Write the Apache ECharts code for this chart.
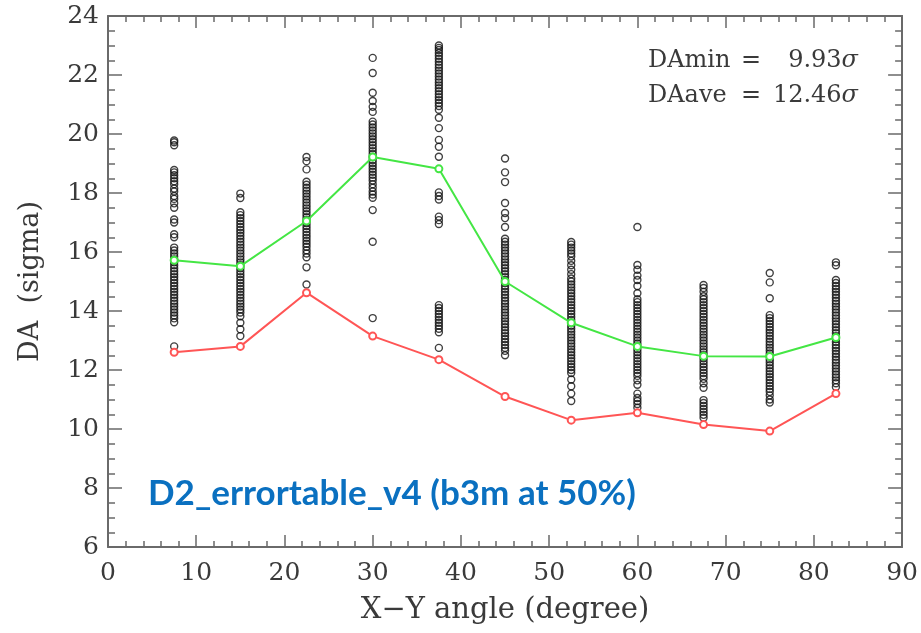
<!DOCTYPE html>
<html>
<head>
<meta charset="utf-8">
<script src="https://cdn.jsdelivr.net/npm/echarts@6/dist/echarts.min.js"></script>
<style>html,body{margin:0;padding:0;background:#fff}#chart{width:921px;height:633px}</style>
</head>
<body>
<div id="chart"></div>
<script>
// X positions of the angle columns (degree)
const angles = [7.5, 15, 22.5, 30, 37.5, 45, 52.5, 60, 67.5, 75, 82.5];
// Average DA per angle (green) and minimum DA per angle (red)
const daAverage = [15.72, 15.52, 17.05, 19.22, 18.82, 15.0, 13.6, 12.8, 12.47, 12.46, 13.1];
const daMinimum = [12.6, 12.8, 14.62, 13.15, 12.35, 11.1, 10.3, 10.55, 10.15, 9.93, 11.2];

// Individual seed DA values for each angle column
const seeds7_5 = [19.78, 19.72, 19.62, 18.78, 18.7, 18.6, 18.5, 18.4, 18.3, 18.15, 18.05, 17.9, 17.8, 17.65, 17.5, 17.1, 17.0, 16.6, 16.5, 16.15, 16.05, 15.95, 15.85, 15.75, 15.65, 15.55, 15.45, 15.35, 15.25, 15.15, 15.05, 14.95, 14.85, 14.75, 14.65, 14.55, 14.45, 14.35, 14.25, 14.15, 14.05, 13.95, 13.85, 13.75, 13.62, 12.8];
const seeds15 = [17.98, 17.83, 17.35, 17.25, 17.15, 17.05, 16.95, 16.85, 16.75, 16.65, 16.55, 16.45, 16.35, 16.25, 16.15, 16.05, 15.95, 15.85, 15.75, 15.65, 15.55, 15.45, 15.35, 15.25, 15.15, 15.05, 14.95, 14.85, 14.75, 14.65, 14.55, 14.45, 14.35, 14.25, 14.15, 14.05, 13.95, 13.82, 13.6, 13.38, 13.15];
const seeds22_5 = [19.22, 19.08, 18.8, 18.38, 18.28, 18.18, 18.08, 17.98, 17.88, 17.78, 17.68, 17.58, 17.48, 17.38, 17.28, 17.18, 17.08, 16.98, 16.88, 16.78, 16.68, 16.58, 16.48, 16.38, 16.28, 16.18, 16.06, 15.95, 15.82, 15.48, 14.9];
const seeds30 = [22.58, 22.07, 21.4, 21.12, 20.92, 20.75, 20.42, 20.32, 20.22, 20.12, 20.02, 19.92, 19.82, 19.72, 19.62, 19.52, 19.42, 19.32, 19.22, 19.12, 19.02, 18.92, 18.82, 18.72, 18.62, 18.52, 18.42, 18.3, 18.18, 18.05, 17.95, 17.84, 17.42, 16.35, 13.76];
const seeds37_5 = [23.0, 22.92, 22.85, 22.75, 22.65, 22.55, 22.45, 22.35, 22.25, 22.15, 22.05, 21.95, 21.85, 21.75, 21.65, 21.55, 21.45, 21.35, 21.25, 21.15, 21.05, 20.95, 20.82, 20.55, 20.2, 19.8, 19.57, 19.23, 18.02, 17.9, 17.78, 17.2, 17.08, 16.95, 14.2, 14.1, 14.0, 13.9, 13.8, 13.7, 13.6, 13.5, 13.4, 13.28, 12.75];
const seeds45 = [19.17, 18.7, 18.37, 17.66, 17.32, 17.15, 16.85, 16.45, 16.35, 16.25, 16.15, 16.05, 15.95, 15.85, 15.75, 15.65, 15.55, 15.45, 15.35, 15.25, 15.15, 15.05, 14.95, 14.85, 14.75, 14.65, 14.55, 14.45, 14.35, 14.25, 14.15, 14.05, 13.95, 13.85, 13.75, 13.65, 13.55, 13.45, 13.35, 13.25, 13.15, 13.05, 12.95, 12.85, 12.75, 12.65, 12.5];
const seeds52_5 = [16.34, 16.25, 16.15, 16.05, 15.95, 15.85, 15.7, 15.55, 15.4, 15.25, 15.1, 15.0, 14.9, 14.8, 14.7, 14.6, 14.5, 14.4, 14.3, 14.2, 14.1, 14.0, 13.9, 13.8, 13.7, 13.6, 13.5, 13.4, 13.3, 13.2, 13.1, 13.0, 12.9, 12.8, 12.7, 12.6, 12.5, 12.4, 12.3, 12.2, 12.1, 12.0, 11.9, 11.68, 11.45, 11.2, 10.95];
const seeds60 = [16.85, 15.56, 15.4, 15.2, 15.05, 14.85, 14.6, 14.4, 14.3, 14.2, 14.1, 14.0, 13.9, 13.8, 13.7, 13.6, 13.5, 13.4, 13.3, 13.2, 13.1, 13.0, 12.9, 12.8, 12.7, 12.6, 12.5, 12.4, 12.3, 12.2, 12.1, 12.0, 11.9, 11.8, 11.65, 11.5, 11.2, 11.05, 10.95, 10.85, 10.72];
const seeds67_5 = [14.88, 14.78, 14.65, 14.5, 14.4, 14.3, 14.2, 14.1, 14.0, 13.9, 13.8, 13.7, 13.6, 13.5, 13.4, 13.3, 13.2, 13.1, 13.0, 12.9, 12.8, 12.7, 12.6, 12.5, 12.4, 12.3, 12.2, 12.1, 12.0, 11.9, 11.8, 11.7, 11.55, 11.4, 10.98, 10.88, 10.78, 10.68, 10.58, 10.48, 10.38];
const seeds75 = [15.29, 14.97, 14.43, 13.86, 13.76, 13.66, 13.56, 13.46, 13.36, 13.26, 13.16, 13.06, 12.96, 12.86, 12.76, 12.66, 12.56, 12.46, 12.36, 12.26, 12.16, 12.06, 11.96, 11.86, 11.76, 11.66, 11.56, 11.46, 11.36, 11.26, 11.14, 11.0, 10.9];
const seeds82_5 = [15.65, 15.55, 15.05, 14.95, 14.85, 14.75, 14.65, 14.55, 14.45, 14.35, 14.25, 14.15, 14.05, 13.95, 13.85, 13.75, 13.65, 13.55, 13.45, 13.35, 13.25, 13.15, 13.05, 12.95, 12.85, 12.75, 12.65, 12.55, 12.45, 12.35, 12.25, 12.15, 12.05, 11.95, 11.85, 11.75, 11.65, 11.55, 11.42];
const seedColumns = [seeds7_5, seeds15, seeds22_5, seeds30, seeds37_5, seeds45, seeds52_5, seeds60, seeds67_5, seeds75, seeds82_5];

// Axis / text content
const xTitle = 'X\u2212Y angle (degree)';
const yTitle = 'DA  (sigma)';
const noteMinLabel = 'DAmin';
const noteMinValue = '9.93';
const noteAveLabel = 'DAave';
const noteAveValue = '12.46';
const blueLabel = 'D2_errortable_v4 (b3m at 50%)';

const scatterData = [];
angles.forEach((a, i) => seedColumns[i].forEach(v => scatterData.push([a, v])));
const pair = arr => angles.map((a, i) => [a, arr[i]]);

const chart = echarts.init(document.getElementById('chart'), null, {renderer: 'canvas'});
const serif = 'DejaVu Serif';
const txt = '#3a3a3a';
const axisCol = '#6a6a6a';

const xBase = {
  type: 'value', min: 0, max: 90, interval: 10,
  axisLine: {show: true, onZero: false, lineStyle: {color: axisCol, width: 2}},
  axisTick: {show: true, inside: true, length: 12, lineStyle: {color: axisCol, width: 1.5}},
  minorTick: {show: true, splitNumber: 5, length: 6, lineStyle: {color: axisCol, width: 1.5}},
  splitLine: {show: false}
};
const yBase = {
  type: 'value', min: 6, max: 24, interval: 2,
  axisLine: {show: true, onZero: false, lineStyle: {color: axisCol, width: 2}},
  axisTick: {show: true, inside: true, length: 14, lineStyle: {color: axisCol, width: 1.5}},
  minorTick: {show: true, splitNumber: 4, length: 7, lineStyle: {color: axisCol, width: 1.5}},
  splitLine: {show: false}
};

const richVal = {
  n: {fontFamily: serif, fontSize: 24, color: txt},
  s: {fontFamily: serif, fontStyle: 'italic', fontSize: 24, color: txt}
};

chart.setOption({
  animation: false,
  backgroundColor: '#ffffff',
  grid: {left: 108, top: 16, right: 15, bottom: 86},
  xAxis: [
    Object.assign({}, xBase, {
      position: 'bottom',
      axisLabel: {show: true, margin: 14, fontFamily: serif, fontSize: 25, color: txt},
      name: xTitle, nameLocation: 'middle', nameGap: 49,
      nameTextStyle: {fontFamily: serif, fontSize: 29, color: txt}
    }),
    Object.assign({}, xBase, {position: 'top', axisLabel: {show: false}})
  ],
  yAxis: [
    Object.assign({}, yBase, {
      position: 'left',
      axisLabel: {show: true, margin: 9, fontFamily: serif, fontSize: 25, color: txt},
      name: yTitle, nameLocation: 'middle', nameGap: 64, nameRotate: 90,
      nameTextStyle: {fontFamily: serif, fontSize: 27, color: txt}
    }),
    Object.assign({}, yBase, {position: 'right', axisLabel: {show: false}})
  ],
  series: [
    {
      type: 'scatter', data: scatterData, symbol: 'circle', symbolSize: 7,
      itemStyle: {color: 'rgba(255,255,255,0)', borderColor: '#111', borderWidth: 1.4},
      z: 2
    },
    {
      type: 'line', data: pair(daAverage), symbol: 'emptyCircle', symbolSize: 7,
      lineStyle: {color: '#44e644', width: 2}, itemStyle: {color: '#44e644', borderWidth: 1.5},
      z: 3
    },
    {
      type: 'line', data: pair(daMinimum), symbol: 'emptyCircle', symbolSize: 7,
      lineStyle: {color: '#ff5555', width: 2}, itemStyle: {color: '#ff5555', borderWidth: 1.5},
      z: 3
    }
  ],
  graphic: [
    {type: 'text', left: 648, top: 49, style: {text: noteMinLabel, font: '24px "DejaVu Serif"', fill: txt}},
    {type: 'text', left: 741, top: 49, style: {text: '=', font: '24px "DejaVu Serif"', fill: txt}},
    {type: 'text', right: 63, top: 49, style: {text: '{n|' + noteMinValue + '}{s|\u03c3}', fill: txt, rich: richVal}},
    {type: 'text', left: 648, top: 84, style: {text: noteAveLabel, font: '24px "DejaVu Serif"', fill: txt}},
    {type: 'text', left: 741, top: 84, style: {text: '=', font: '24px "DejaVu Serif"', fill: txt}},
    {type: 'text', right: 63, top: 84, style: {text: '{n|' + noteAveValue + '}{s|\u03c3}', fill: txt, rich: richVal}},
    {type: 'text', left: 148, top: 476, style: {text: blueLabel, font: 'bold 35px Lato', fill: '#0a70c0'}}
  ]
});
</script>
</body>
</html>
